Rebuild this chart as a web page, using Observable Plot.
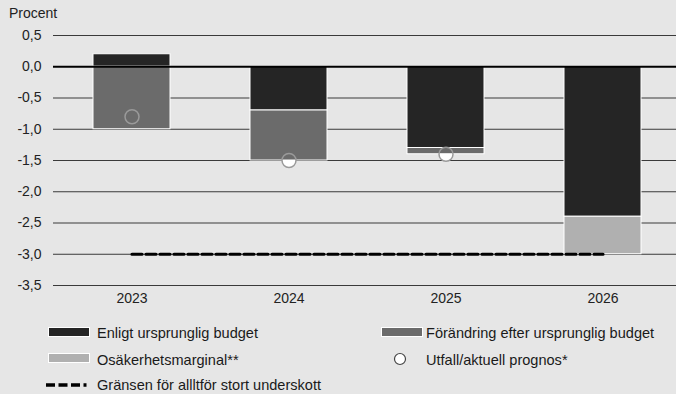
<!DOCTYPE html>
<html>
<head>
<meta charset="utf-8">
<script src="https://cdn.jsdelivr.net/npm/d3@7"></script>
<script src="https://cdn.jsdelivr.net/npm/@observablehq/plot@0.6"></script>
<style>
  html, body { margin: 0; padding: 0; background: #e6e6e6; }
  #wrap { position: relative; width: 676px; height: 394px; background: #e6e6e6; font-family: "Liberation Sans", Arial, sans-serif; color: #222; overflow: hidden; }
  #chart { position: absolute; left: 0; top: 0; }
  .ylab { position: absolute; left: 9px; top: 5px; font-size: 14px; }
  .leg { position: absolute; font-family: "Liberation Sans", Arial, sans-serif; font-size: 14.5px; color: #1a1a1a; line-height: 16px; white-space: nowrap; transform-origin: 0 50%; }
  .sw { position: absolute; width: 42px; height: 10px; box-sizing: border-box; border: 1px solid #fff; }
</style>
</head>
<body>
<div id="wrap">
  <div class="ylab">Procent</div>
  <div id="chart"></div>
</div>
<script>
// ---- data ----
const years = ["2023", "2024", "2025", "2026"];
const seriesNames = ["Enligt ursprunglig budget", "Förändring efter ursprunglig budget", "Osäkerhetsmarginal**"];
const budget = [0.2, -0.7, -1.3, -2.4];
const change = [-1.0, -0.8, -0.1, 0];
const margin = [0, 0, 0, -0.6];
const outcome = [-0.8, -1.5, -1.4, null];
const limitValue = -3.0;
const yTicks = [0.5, 0, -0.5, -1, -1.5, -2, -2.5, -3, -3.5];
const colors = ["#252525", "#6b6b6b", "#b0b0b0"];

const bars = [];
years.forEach((yr, i) => {
  bars.push({year: yr, series: seriesNames[0], value: budget[i]});
  bars.push({year: yr, series: seriesNames[1], value: change[i]});
  bars.push({year: yr, series: seriesNames[2], value: margin[i]});
});
const dots = years.map((yr, i) => ({year: yr, value: outcome[i]})).filter(d => d.value != null);
const limitLine = years.map(yr => ({year: yr, value: limitValue}));

const fmt = d => d.toFixed(1).replace(".", ",");

const chart = Plot.plot({
  width: 676,
  height: 310,
  marginTop: 35,
  marginBottom: 25,
  marginLeft: 53,
  marginRight: 0,
  style: {background: "transparent", fontFamily: "Liberation Sans, Arial, sans-serif", fontSize: "14px", color: "#222"},
  x: {domain: years, range: [53, 681], paddingInner: 0.51, paddingOuter: 0.255, label: null, tickSize: 0, tickPadding: 8},
  y: {domain: [-3.5, 0.5], ticks: yTicks, tickFormat: fmt, label: null, tickSize: 0, tickPadding: 12},
  color: {domain: seriesNames, range: colors},
  marks: [
    Plot.ruleY(yTicks.filter(d => d !== 0), {stroke: "#3a3a3a", strokeWidth: 1}),
    Plot.dot(dots, {x: "year", y: "value", r: 7, fill: "#ffffff", stroke: "none"}),
    Plot.barY(bars, {x: "year", y: "value", fill: "series", stroke: "#ffffff", strokeWidth: 1, order: seriesNames}),
    Plot.ruleY([0], {stroke: "#000", strokeWidth: 2}),
    Plot.lineY(limitLine, {x: "year", y: "value", stroke: "#000", strokeWidth: 3.2, strokeDasharray: "10,4"}),
    Plot.dot(dots, {x: "year", y: "value", r: 7, fill: "none", stroke: "#9a9a9a", strokeWidth: 1.5})
  ]
});
document.getElementById("chart").appendChild(chart);

// ---- legend ----
const wrap = document.getElementById("wrap");
function addSwatch(left, top, color) {
  const s = document.createElement("div");
  s.className = "sw";
  s.style.left = left + "px"; s.style.top = top + "px"; s.style.background = color;
  wrap.appendChild(s);
}
const texts = [];
function addText(left, top, txt) {
  const t = document.createElement("div");
  t.className = "leg";
  t.style.left = left + "px"; t.style.top = top + "px";
  t.textContent = txt;
  wrap.appendChild(t);
  texts.push(t);
}
addSwatch(48, 327, colors[0]);
addText(97, 325, seriesNames[0]);
addSwatch(381, 327, colors[1]);
addText(426, 325, seriesNames[1]);
addSwatch(48, 353, colors[2]);
addText(97, 352, seriesNames[2]);
addText(426, 352, "Utfall/aktuell prognos*");
addText(97, 377, "Gränsen för allltför stort underskott");
// match the reference label width (~161px for the first label)
const w0 = texts[0].getBoundingClientRect().width;
const sx = 161 / w0;
texts.forEach(t => { t.style.transform = `scaleX(${sx})`; });

const ns = "http://www.w3.org/2000/svg";
const lsvg = document.createElementNS(ns, "svg");
lsvg.setAttribute("width", 676); lsvg.setAttribute("height", 394);
lsvg.style.position = "absolute"; lsvg.style.left = "0"; lsvg.style.top = "0"; lsvg.style.pointerEvents = "none";
const c = document.createElementNS(ns, "circle");
c.setAttribute("cx", 400); c.setAttribute("cy", 359); c.setAttribute("r", 5.5);
c.setAttribute("fill", "#fff"); c.setAttribute("stroke", "#444"); c.setAttribute("stroke-width", 1.2);
lsvg.appendChild(c);
const l = document.createElementNS(ns, "line");
l.setAttribute("x1", 46); l.setAttribute("x2", 87); l.setAttribute("y1", 385); l.setAttribute("y2", 385);
l.setAttribute("stroke", "#000"); l.setAttribute("stroke-width", 3.5); l.setAttribute("stroke-dasharray", "9,3.5,9,3.5,9,3.5,3,100");
lsvg.appendChild(l);
wrap.appendChild(lsvg);
</script>
</body>
</html>
